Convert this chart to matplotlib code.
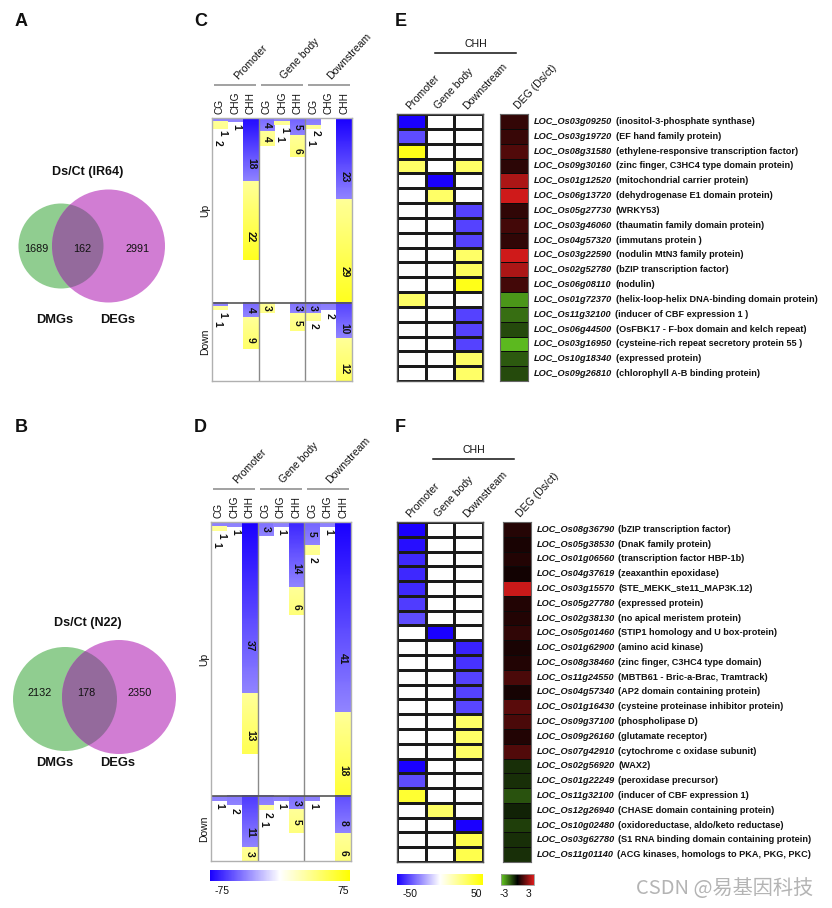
import numpy as np
import matplotlib
matplotlib.use('Agg')
import matplotlib.pyplot as plt
from matplotlib.colors import LinearSegmentedColormap, Normalize
from matplotlib.patches import Circle
from matplotlib.cm import ScalarMappable

W, H = 832, 908
plt.rcParams['font.family'] = ['Liberation Sans', 'DejaVu Sans']

# ---------------- data: Venn (A, B) ----------------
venn_titles = ['Ds/Ct (IR64)', 'Ds/Ct (N22)']
dmg_only = [1689, 2132]
shared = [162, 178]
deg_only = [2991, 2350]
venn_set_labels = ['DMGs', 'DEGs']

# ---------------- data: DMR counts (C, D) ----------------
regions = ['Promoter', 'Gene body', 'Downstream']
contexts = ['CG', 'CHG', 'CHH']
sections = ['Up', 'Down']
# columns: Promoter CG/CHG/CHH, Gene body CG/CHG/CHH, Downstream CG/CHG/CHH
C_up_hypo = [1, 1, 18, 4, 1, 5, 2, 0, 23]
C_up_hyper = [2, 0, 22, 4, 1, 6, 1, 0, 29]
C_down_hypo = [1, 0, 4, 0, 0, 3, 3, 2, 10]
C_down_hyper = [1, 0, 9, 3, 0, 5, 2, 0, 12]
D_up_hypo = [1, 1, 37, 3, 1, 14, 5, 1, 41]
D_up_hyper = [1, 0, 13, 0, 0, 6, 2, 0, 18]
D_down_hypo = [1, 2, 11, 2, 1, 3, 1, 0, 8]
D_down_hyper = [0, 0, 3, 1, 0, 5, 0, 0, 6]
dmr_range = [-75, 75]

# ---------------- data: CHH genes (E, F) ----------------
chh_regions = ['Promoter', 'Gene body', 'Downstream']
deg_label = 'DEG (Ds/ct)'
meth_range = [-50, 50]
deg_range = [-3, 3]
nan = np.nan

E_genes = ['LOC_Os03g09250', 'LOC_Os03g19720', 'LOC_Os08g31580', 'LOC_Os09g30160',
           'LOC_Os01g12520', 'LOC_Os06g13720', 'LOC_Os05g27730', 'LOC_Os03g46060',
           'LOC_Os04g57320', 'LOC_Os03g22590', 'LOC_Os02g52780', 'LOC_Os06g08110',
           'LOC_Os01g72370', 'LOC_Os11g32100', 'LOC_Os06g44500', 'LOC_Os03g16950',
           'LOC_Os10g18340', 'LOC_Os09g26810']
E_desc = ['(inositol-3-phosphate synthase)', '(EF hand family protein)',
          '(ethylene-responsive transcription factor)', '(zinc finger, C3HC4 type domain protein)',
          '(mitochondrial carrier protein)', '(dehydrogenase E1 domain protein)', '(WRKY53)',
          '(thaumatin family domain protein)', '(immutans protein )', '(nodulin MtN3 family protein)',
          '(bZIP transcription factor)', '(nodulin)', '(helix-loop-helix DNA-binding domain protein)',
          '(inducer of CBF expression 1 )', '(OsFBK17 - F-box domain and kelch repeat)',
          '(cysteine-rich repeat secretory protein 55 )', '(expressed protein)',
          '(chlorophyll A-B binding protein)']
E_promoter = [-50, -35, 45, 30, nan, nan, nan, nan, nan, nan, nan, nan, 30, nan, nan, nan, nan, nan]
E_genebody = [nan, nan, nan, nan, -50, 30, nan, nan, nan, nan, nan, nan, nan, nan, nan, nan, nan, nan]
E_downstream = [nan, nan, nan, 30, nan, nan, -37, -37, -37, 30, 32, 45, nan, -37, -37, -37, 30, 30]
E_deg = [0.7, 0.75, 1.1, 0.6, 2.3, 2.8, 0.65, 0.9, 0.65, 2.8, 2.3, 0.9,
         -2.2, -1.6, -1.1, -2.7, -1.3, -1.1]

F_genes = ['LOC_Os08g36790', 'LOC_Os05g38530', 'LOC_Os01g06560', 'LOC_Os04g37619',
           'LOC_Os03g15570', 'LOC_Os05g27780', 'LOC_Os02g38130', 'LOC_Os05g01460',
           'LOC_Os01g62900', 'LOC_Os08g38460', 'LOC_Os11g24550', 'LOC_Os04g57340',
           'LOC_Os01g16430', 'LOC_Os09g37100', 'LOC_Os09g26160', 'LOC_Os07g42910',
           'LOC_Os02g56920', 'LOC_Os01g22249', 'LOC_Os11g32100', 'LOC_Os12g26940',
           'LOC_Os10g02480', 'LOC_Os03g62780', 'LOC_Os11g01140']
F_desc = ['(bZIP transcription factor)', '(DnaK family protein)', '(transcription factor HBP-1b)',
          '(zeaxanthin epoxidase)', '(STE_MEKK_ste11_MAP3K.12)', '(expressed protein)',
          '(no apical meristem protein)', '(STIP1 homology and U box-protein)', '(amino acid kinase)',
          '(zinc finger, C3HC4 type domain)', '(MBTB61 - Bric-a-Brac, Tramtrack)',
          '(AP2 domain containing protein)', '(cysteine proteinase inhibitor protein)',
          '(phospholipase D)', '(glutamate receptor)', '(cytochrome c oxidase subunit)', '(WAX2)',
          '(peroxidase precursor)', '(inducer of CBF expression 1)', '(CHASE domain containing protein)',
          '(oxidoreductase, aldo/keto reductase)', '(S1 RNA binding domain containing protein)',
          '(ACG kinases, homologs to PKA, PKG, PKC)']
F_promoter = [-50, -47, -42, -42, -42, -38, -35, nan, nan, nan, nan, nan, nan, nan, nan, nan,
              -50, -35, 40, nan, nan, nan, nan]
F_genebody = [nan, nan, nan, nan, nan, nan, nan, -50, nan, nan, nan, nan, nan, nan, nan, nan,
              nan, nan, nan, 30, nan, nan, nan]
F_downstream = [nan, nan, nan, nan, nan, nan, nan, nan, -43, -40, -37, -37, -36, 30, 30, 30,
                nan, nan, nan, nan, -50, 35, 35]
F_deg = [0.5, 0.35, 0.45, 0.25, 2.7, 0.45, 0.45, 0.65, 0.35, 0.45, 1.0, 0.3, 1.2, 1.0, 0.45, 1.1,
         -0.7, -0.7, -1.2, -0.5, -0.9, -0.7, -0.7]

watermark = 'CSDN @易基因科技'

# ---------------- styling ----------------
cmap_meth = LinearSegmentedColormap.from_list(
    'bwy', [(0.0, '#1a00ff'), (0.5, '#ffffff'), (1.0, '#ffff00')]).with_extremes(bad='white')
cmap_deg = LinearSegmentedColormap.from_list(
    'gkr', [(0.0, '#66cc22'), (0.5, '#000000'), (1.0, '#dd1c1c')])
TXT = '#111111'
NUM_FS = 7.4

fig = plt.figure(figsize=(W / 100, H / 100), dpi=100)


def px_axes(l, t, r, b, **kw):
    return fig.add_axes([l / W, 1 - b / H, (r - l) / W, (b - t) / H], **kw)


# canvas in pixel coordinates for free-standing elements
cv = px_axes(0, 0, W, H)
cv.set_xlim(0, W)
cv.set_ylim(H, 0)
cv.axis('off')

# panel letters
for letter, (x, y) in zip('ABCDEF', [(15, 22), (15, 428), (194, 22), (194, 428), (395, 22), (395, 428)]):
    cv.text(x, y, letter, fontsize=13, fontweight='bold', ha='left', va='center', color=TXT)

# ---------------- Venn diagrams ----------------
venn_geom = [
    dict(title=(88, 172), g=(61, 246, 42.5), m=(108.5, 246, 56.5), ny=249, nx=(36, 82, 138), ly=320),
    dict(title=(88, 623), g=(65, 699, 52), m=(119, 697, 57), ny=693, nx=(40, 86, 140), ly=763),
]
for k, geo in enumerate(venn_geom):
    cv.text(*geo['title'], venn_titles[k], fontsize=9, fontweight='bold', ha='center', va='center', color=TXT)
    gc = Circle(geo['g'][:2], geo['g'][2], facecolor='#90cd90', edgecolor='none')
    mc = Circle(geo['m'][:2], geo['m'][2], facecolor='#d17dd3', edgecolor='none')
    cv.add_patch(gc)
    cv.add_patch(mc)
    oc = Circle(geo['m'][:2], geo['m'][2], facecolor='#946a9c', edgecolor='none')
    cv.add_patch(oc)
    oc.set_clip_path(gc)
    for x, v in zip(geo['nx'], [dmg_only[k], shared[k], deg_only[k]]):
        cv.text(x, geo['ny'], str(v), fontsize=7.8, ha='center', va='center', color=TXT)
    cv.text(55, geo['ly'], venn_set_labels[0], fontsize=9.3, fontweight='bold', ha='center', va='center', color=TXT)
    cv.text(118, geo['ly'], venn_set_labels[1], fontsize=9.3, fontweight='bold', ha='center', va='center', color=TXT)


# ---------------- DMR stacked heatmaps (C, D) ----------------
def draw_dmr(box, up_hypo, up_hyper, dn_hypo, dn_hyper):
    l, t, r, b = box
    ax = px_axes(l, t, r, b)
    n_up = max(a + c for a, c in zip(up_hypo, up_hyper))
    n_dn = max(a + c for a, c in zip(dn_hypo, dn_hyper))
    total = n_up + n_dn
    axh = b - t
    rowpx = axh / total
    norm = Normalize(*dmr_range)
    for r0, hypo, hyper in [(0, up_hypo, up_hyper), (n_up, dn_hypo, dn_hyper)]:
        for j in range(len(hypo)):
            nb, ny = hypo[j], hyper[j]
            below = []
            if nb:
                grad = np.linspace(-min(75, 36 + 2 * nb), -36, 64)[:, None]
                ax.imshow(grad, extent=[j, j + 1, r0 + nb, r0], cmap=cmap_meth, norm=norm,
                          aspect='auto', interpolation='bilinear', zorder=1)
                if nb >= 3:
                    fr = 0.5 if nb < 6 else 0.72
                    ax.text(j + 0.5, r0 + nb * fr, str(nb), rotation=270, ha='center', va='center',
                            fontsize=NUM_FS, fontweight='bold', color=TXT, zorder=3)
                else:
                    below.append(nb)
            if ny:
                grad = np.linspace(30, min(66, 30 + 1.6 * ny), 64)[:, None]
                ax.imshow(grad, extent=[j, j + 1, r0 + nb + ny, r0 + nb], cmap=cmap_meth, norm=norm,
                          aspect='auto', interpolation='bilinear', zorder=1)
                if ny >= 3:
                    fr = 0.5 if ny < 6 else 0.7
                    ax.text(j + 0.5, r0 + nb + ny * fr, str(ny), rotation=270, ha='center', va='center',
                            fontsize=NUM_FS, fontweight='bold', color=TXT, zorder=3)
                else:
                    below.append(ny)
            # small counts are written just under their stack, staggered
            yb = r0 + nb + ny
            for q, v in enumerate(below):
                if len(below) == 2:
                    xq = j + (0.66 if q == 0 else 0.34)
                    yq = yb + (4.5 + 9.5 * q) / rowpx
                else:
                    xq = j + 0.55
                    yq = yb + 5.5 / rowpx
                ax.text(xq, yq, str(v), rotation=270, ha='center', va='center',
                        fontsize=NUM_FS, fontweight='bold', color=TXT, zorder=3)
    ax.set_xlim(0, 9)
    ax.set_ylim(total, 0)
    ax.set_xticks([])
    ax.set_yticks([])
    for s in ax.spines.values():
        s.set_color('#b0b0b0')
        s.set_linewidth(1.0)
    for xv in (3, 6):
        ax.axvline(xv, color='#8a8a8a', lw=1.0, zorder=2)
    ax.axhline(n_up, color='#555555', lw=1.2, zorder=2)
    # section labels
    ax.text(-0.45, n_up / 2, sections[0], rotation=90, ha='center', va='center', fontsize=7.5, color=TXT)
    ax.text(-0.45, n_up + n_dn / 2, sections[1], rotation=90, ha='center', va='center', fontsize=7.5, color=TXT)
    # headers
    tr = ax.get_xaxis_transform()
    for j in range(9):
        ax.text(j + 0.5, 1 + 4.5 / axh, contexts[j % 3], transform=tr, rotation=90, ha='center',
                va='bottom', fontsize=7.3, color=TXT)
    yl = 1 + 33 / axh
    for g in range(3):
        ax.plot([g * 3 + 0.15, g * 3 + 2.85], [yl, yl], transform=tr, color='#9a9a9a', lw=1.3,
                clip_on=False, solid_capstyle='butt')
        ax.text(g * 3 + 1.75, yl + 4 / axh, regions[g], transform=tr, rotation=47, ha='left',
                va='bottom', rotation_mode='anchor', fontsize=7.6, color=TXT)
    return ax


draw_dmr((212, 118, 352, 381), C_up_hypo, C_up_hyper, C_down_hypo, C_down_hyper)
draw_dmr((211, 522, 351, 861), D_up_hypo, D_up_hyper, D_down_hypo, D_down_hyper)

# D colour bar
cb_ax = px_axes(210, 870, 350, 881)
cb = fig.colorbar(ScalarMappable(Normalize(*dmr_range), cmap_meth), cax=cb_ax, orientation='horizontal')
cb.set_ticks([])
cb.outline.set_visible(False)
cb_ax.text(0.086, -0.45, str(dmr_range[0]), transform=cb_ax.transAxes, ha='center', va='top', fontsize=7.5, color=TXT)
cb_ax.text(0.95, -0.45, str(dmr_range[1]), transform=cb_ax.transAxes, ha='center', va='top', fontsize=7.5, color=TXT)


# ---------------- CHH gene heatmaps (E, F) ----------------
def draw_chh(grid_box, deg_box, prom, gb, ds, deg, genes, descs, chh_line, chh_y):
    l, t, r, b = grid_box
    ax = px_axes(l, t, r, b)
    n = len(genes)
    data = np.ma.masked_invalid(np.column_stack([prom, gb, ds]).astype(float))
    ax.pcolormesh(np.arange(4), np.arange(n + 1), data, cmap=cmap_meth, norm=Normalize(*meth_range),
                  edgecolors='#1a1a1a', linewidth=1.0)
    ax.set_xlim(0, 3)
    ax.set_ylim(n, 0)
    ax.set_xticks([])
    ax.set_yticks([])
    for s in ax.spines.values():
        s.set_color('#555555')
        s.set_linewidth(1.0)
    axh = b - t
    tr = ax.get_xaxis_transform()
    for c in range(3):
        ax.text(c + 0.5, 1 + 3 / axh, chh_regions[c], transform=tr, rotation=47, ha='left',
                va='bottom', rotation_mode='anchor', fontsize=7.6, color=TXT)

    dl, dt, dr, db = deg_box
    ad = px_axes(dl, dt, dr, db)
    ad.pcolormesh(np.arange(2), np.arange(n + 1), np.asarray(deg, float)[:, None], cmap=cmap_deg,
                  norm=Normalize(*deg_range), edgecolors='#0a0a0a', linewidth=0.7)
    ad.set_xlim(0, 1)
    ad.set_ylim(n, 0)
    ad.set_xticks([])
    ad.set_yticks([])
    for s in ad.spines.values():
        s.set_color('#666666')
        s.set_linewidth(0.8)
    ad.text(0.5 + 6 / (dr - dl), 1 + 3 / axh, deg_label, transform=ad.get_xaxis_transform(), rotation=47,
            ha='left', va='bottom', rotation_mode='anchor', fontsize=7.6, color=TXT)
    ty = ad.get_yaxis_transform()
    for i in range(n):
        tx = ad.text(1 + 6 / (dr - dl), i + 0.5, genes[i], transform=ty, ha='left', va='center',
                     fontsize=6.6, fontweight='bold', fontstyle='italic', color=TXT)
        ad.annotate(descs[i], xy=(1, 0.5), xycoords=tx, xytext=(2.6, 0), textcoords='offset points',
                    ha='left', va='center', fontsize=6.6, fontweight='bold', color=TXT)
    # CHH bracket
    cv.plot(chh_line[:2], [chh_line[2]] * 2, color='#111111', lw=1.1)
    cv.text((chh_line[0] + chh_line[1]) / 2, chh_y, 'CHH', ha='center', va='center', fontsize=7.6, color=TXT)
    return ax, ad


draw_chh((397, 114, 483, 381), (500, 114, 528, 381), E_promoter, E_genebody, E_downstream, E_deg,
         E_genes, E_desc, (435, 516, 53), 44)
draw_chh((397, 522, 482.5, 862), (502.5, 522, 530.5, 862), F_promoter, F_genebody, F_downstream, F_deg,
         F_genes, F_desc, (433, 514, 459), 450)

# F colour bars
cbm_ax = px_axes(397, 874, 483, 885)
cbm = fig.colorbar(ScalarMappable(Normalize(*meth_range), cmap_meth), cax=cbm_ax, orientation='horizontal')
cbm.set_ticks([])
cbm.outline.set_visible(False)
cbm_ax.text(0.15, -0.35, str(meth_range[0]), transform=cbm_ax.transAxes, ha='center', va='top', fontsize=7.5, color=TXT)
cbm_ax.text(0.92, -0.35, str(meth_range[1]), transform=cbm_ax.transAxes, ha='center', va='top', fontsize=7.5, color=TXT)

cbd_ax = px_axes(501, 874, 534, 885)
cbd = fig.colorbar(ScalarMappable(Normalize(*deg_range), cmap_deg), cax=cbd_ax, orientation='horizontal')
cbd.set_ticks([])
cbd.outline.set_edgecolor('#999999')
cbd.outline.set_linewidth(0.6)
cbd_ax.text(0.1, -0.35, str(deg_range[0]), transform=cbd_ax.transAxes, ha='center', va='top', fontsize=7.5, color=TXT)
cbd_ax.text(0.84, -0.35, str(deg_range[1]), transform=cbd_ax.transAxes, ha='center', va='top', fontsize=7.5, color=TXT)

# watermark
cv.text(636, 888, watermark, fontsize=14.5, color='#b4b4b4', ha='left', va='center',
        family=['Noto Sans CJK SC', 'DejaVu Sans'])

fig.savefig('out.png', dpi=100)
